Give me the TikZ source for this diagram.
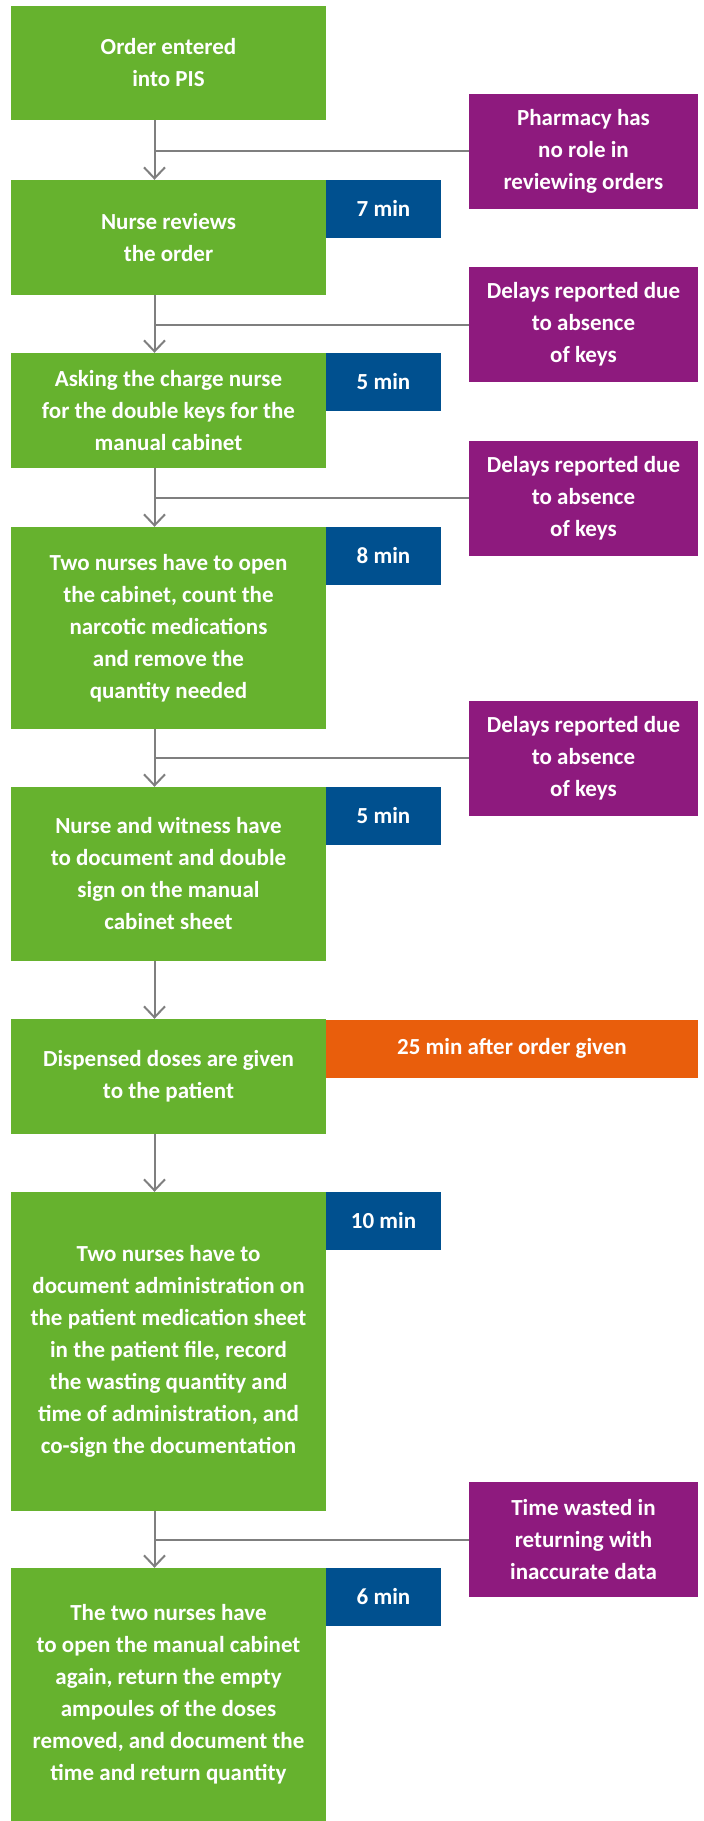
\documentclass[tikz,border=0pt]{standalone}
\usepackage{fontspec}
\setmainfont{Carlito}
\usetikzlibrary{arrows.meta}
\definecolor{gr}{HTML}{66B22E}
\definecolor{bl}{HTML}{00508F}
\definecolor{pu}{HTML}{8E1A7E}
\definecolor{orng}{HTML}{E95E0C}
\definecolor{ln}{HTML}{7F7F7F}
\tikzset{
  box/.style={rectangle, inner sep=0pt, text=white, align=center,
    font=\fontsize{23}{32}\selectfont\bfseries},
  gbox/.style={box, fill=gr, minimum width=315pt},
  tbox/.style={box, fill=bl, minimum width=115pt, minimum height=57.5pt},
  obox/.style={box, fill=orng, minimum width=372pt, minimum height=57.5pt},
  pbox/.style={box, fill=pu, minimum width=229pt, minimum height=115pt},
  conn/.style={draw=ln, line width=2pt},
  arr/.style={conn, -{Straight Barb[length=11pt,width=21pt]}}
}
\begin{document}
\begin{tikzpicture}[x=1pt,y=-1pt]
\useasboundingbox (0,0) rectangle (704,1821);
\coordinate (lx) at (154.5,0);
% green boxes
\node[gbox, minimum height=114pt] (g1) at (168.5,63) {Order entered\\into PIS};
\node[gbox, minimum height=115pt] (g2) at (168.5,237.5) {Nurse reviews\\the order};
\node[gbox, minimum height=115pt] (g3) at (168.5,410.5) {Asking the charge nurse\\for the double keys for the\\manual cabinet};
\node[gbox, minimum height=202pt] (g4) at (168.5,628) {Two nurses have to open\\the cabinet, count the\\narcotic medications\\and remove the\\quantity needed};
\node[gbox, minimum height=174pt] (g5) at (168.5,874) {Nurse and witness have\\to document and double\\sign on the manual\\cabinet sheet};
\node[gbox, minimum height=115pt] (g6) at (168.5,1076.5) {Dispensed doses are given\\to the patient};
\node[gbox, minimum height=318.5pt] (g7) at (168.5,1351.25) {Two nurses have to\\document administration on\\the patient medication sheet\\in the patient file, record\\the wasting quantity and\\time of administration, and\\co-sign the documentation};
\node[gbox, minimum height=253pt] (g8) at (168.5,1694.5) {The two nurses have\\to open the manual cabinet\\again, return the empty\\ampoules of the doses\\removed, and document the\\time and return quantity};
% time boxes
\node[tbox] (t2) at (383.5,208.75) {7 min};
\node[tbox] (t3) at (383.5,381.75) {5 min};
\node[tbox] (t4) at (383.5,555.75) {8 min};
\node[tbox] (t5) at (383.5,815.75) {5 min};
\node[obox] (t6) at (512,1048.75) {25 min after order given};
\node[tbox] (t7) at (383.5,1220.75) {10 min};
\node[tbox] (t8) at (383.5,1596.75) {6 min};
% purple boxes
\node[pbox] (p1) at (583.5,151) {Pharmacy has\\no role in\\reviewing orders};
\node[pbox] (p2) at (583.5,324.5) {Delays reported due\\to absence\\of keys};
\node[pbox] (p3) at (583.5,498) {Delays reported due\\to absence\\of keys};
\node[pbox] (p4) at (583.5,758) {Delays reported due\\to absence\\of keys};
\node[pbox] (p5) at (583.5,1539.5) {Time wasted in\\returning with\\inaccurate data};
% connectors
\draw[arr] (g1.south -| lx) -- (g2.north -| lx);
\draw[arr] (g2.south -| lx) -- (g3.north -| lx);
\draw[arr] (g3.south -| lx) -- (g4.north -| lx);
\draw[arr] (g4.south -| lx) -- (g5.north -| lx);
\draw[arr] (g5.south -| lx) -- (g6.north -| lx);
\draw[arr] (g6.south -| lx) -- (g7.north -| lx);
\draw[arr] (g7.south -| lx) -- (g8.north -| lx);
\draw[conn] (p1.west) -- (p1.west -| lx);
\draw[conn] (p2.west) -- (p2.west -| lx);
\draw[conn] (p3.west) -- (p3.west -| lx);
\draw[conn] (p4.west) -- (p4.west -| lx);
\draw[conn] (p5.west) -- (p5.west -| lx);
\end{tikzpicture}
\end{document}
